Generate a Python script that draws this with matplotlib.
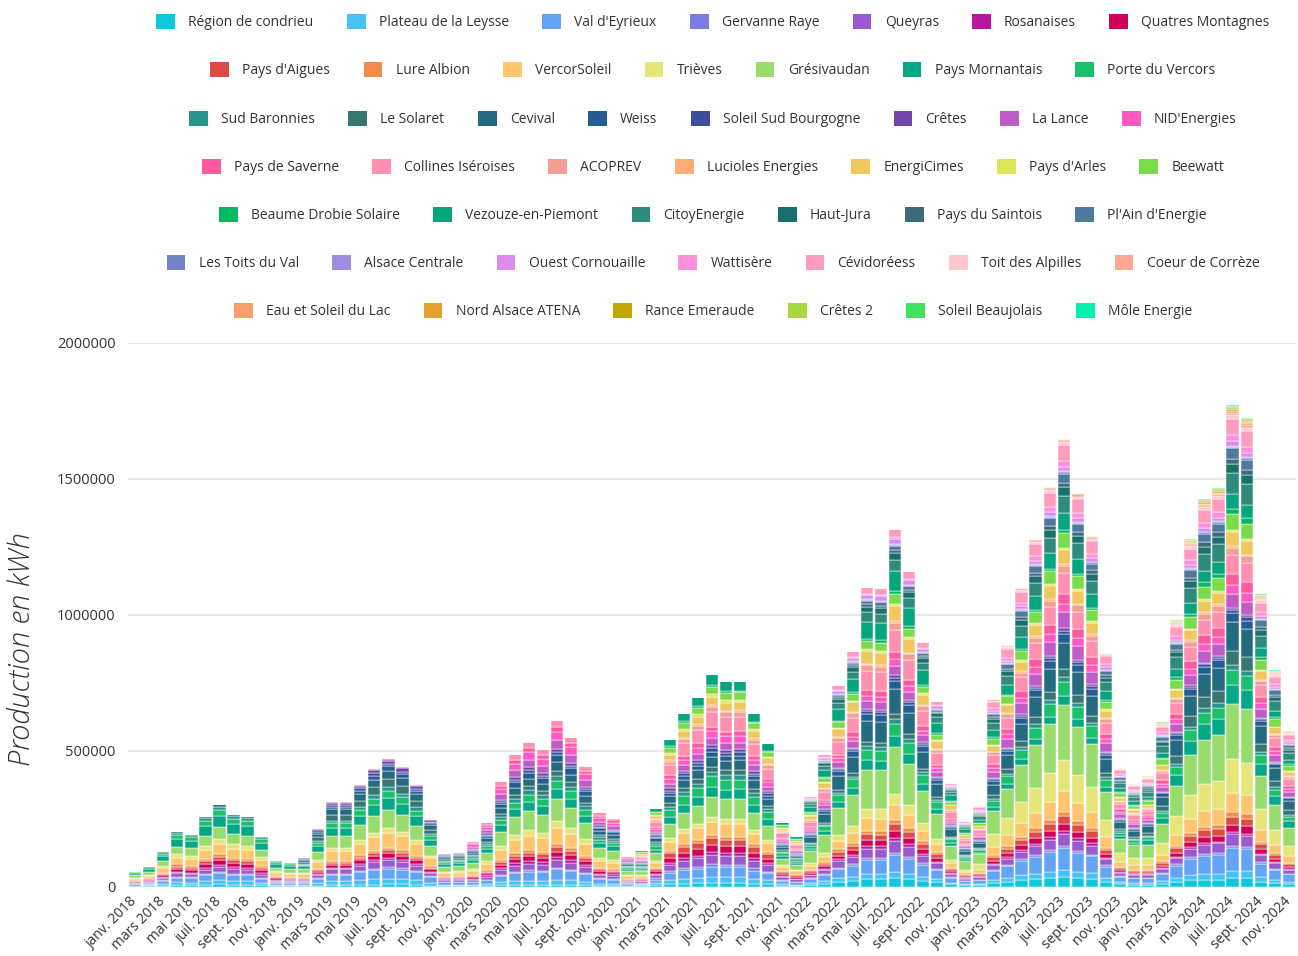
import matplotlib
matplotlib.use("Agg")
import matplotlib.pyplot as plt
from matplotlib.patches import Patch
import numpy as np

# ---------------- data ----------------
month_abbr = ["janv.", "févr.", "mars", "avr.", "mai", "juin",
              "juil.", "août", "sept.", "oct.", "nov.", "déc."]
years = [2018, 2019, 2020, 2021, 2022, 2023, 2024]
months = [f"{m} {y}" for y in years for m in month_abbr][:83]

totals_k = [
    59, 78, 132, 206, 196, 260, 304, 269, 260, 188, 98, 91,          # 2018
    111, 218, 316, 316, 380, 438, 475, 445, 379, 251, 124, 127,      # 2019
    169, 239, 388, 488, 533, 507, 614, 553, 446, 274, 255, 113,      # 2020
    135, 291, 544, 641, 700, 782, 757, 759, 639, 528, 240, 187,      # 2021
    334, 488, 741, 866, 1104, 1098, 1316, 1160, 901, 684, 383, 242,  # 2022
    297, 691, 888, 1101, 1280, 1471, 1648, 1447, 1290, 862, 437, 377,  # 2023
    408, 606, 983, 1281, 1427, 1468, 1772, 1726, 1077, 796, 575,     # 2024
]

series = [
    "Région de condrieu", "Plateau de la Leysse", "Val d'Eyrieux", "Gervanne Raye",
    "Queyras", "Rosanaises", "Quatres Montagnes",
    "Pays d'Aigues", "Lure Albion", "VercorSoleil", "Trièves", "Grésivaudan",
    "Pays Mornantais", "Porte du Vercors",
    "Sud Baronnies", "Le Solaret", "Cevival", "Weiss", "Soleil Sud Bourgogne",
    "Crêtes", "La Lance", "NID'Energies",
    "Pays de Saverne", "Collines Iséroises", "ACOPREV", "Lucioles Energies",
    "EnergiCimes", "Pays d'Arles", "Beewatt",
    "Beaume Drobie Solaire", "Vezouze-en-Piemont", "CitoyEnergie", "Haut-Jura",
    "Pays du Saintois", "Pl'Ain d'Energie",
    "Les Toits du Val", "Alsace Centrale", "Ouest Cornouaille", "Wattisère",
    "Cévidoréess", "Toit des Alpilles", "Coeur de Corrèze",
    "Eau et Soleil du Lac", "Nord Alsace ATENA", "Rance Emeraude", "Crêtes 2",
    "Soleil Beaujolais", "Môle Energie",
]
legend_rows = [7, 7, 8, 7, 6, 7, 6]

colors = [
    "#0cc8da", "#45c3f8", "#64a4f4", "#7b7be0", "#9b59d0", "#b5179e", "#d0005a",
    "#dc4b44", "#f28c4a", "#fec76f", "#e5e57a", "#98dc6e", "#03a886", "#1ac06a",
    "#27958a", "#377673", "#246a80", "#245c94", "#3c4f9a", "#7246a8", "#c05cc8", "#ff5ac4",
    "#ff5aa0", "#ff90b0", "#f49f94", "#ffac78", "#f0c860", "#dce655", "#7adc4a",
    "#05b85f", "#05a57d", "#2f8c7c", "#1a706c", "#3d6b7c", "#4f7aa0",
    "#6e84c4", "#a08ce0", "#dc8cf0", "#ff90dc", "#ff9cc0", "#ffc8cc", "#ffa890",
    "#f5a06a", "#e5a030", "#c0a800", "#a8d840", "#40e060", "#00f0b0",
]

# July bar composition per year (k kWh), read segment by segment, 2018..2024
july_parts = [
    [10, 10, 9, 15, 33, 35, 31],
    [15, 21, 18, 22, 22, 25, 25],
    [25, 37, 37, 37, 61, 75, 77],
    [6, 6, 6, 10, 9, 8, 8],
    [18, 25, 28, 33, 40, 40, 40],
    [9, 9, 12, 12, 12, 10, 8],
    [16, 16, 18, 25, 25, 25, 25],
    [12, 12, 16, 25, 25, 28, 28],
    [12, 10, 12, 12, 15, 15, 15],
    [37, 54, 58, 49, 55, 70, 67],
    [18, 18, 25, 18, 40, 110, 116],
    [43, 67, 80, 74, 170, 190, 190],
    [43, 43, 37, 37, 40, 30, 67],
    [21, 26, 31, 37, 45, 50, 49],
    [12, 15, 18, 18, 15, 15, 18],
    [9, 31, 18, 18, 20, 30, 49],
    [0, 31, 31, 37, 90, 90, 98],
    [0, 15, 25, 18, 30, 30, 31],
    [0, 10, 12, 12, 12, 12, 12],
    [0, 12, 12, 12, 8, 8, 6],
    [0, 6, 31, 25, 35, 55, 49],
    [0, 4, 31, 25, 25, 30, 31],
    [0, 0, 18, 18, 25, 35, 37],
    [0, 0, 25, 55, 80, 70, 67],
    [0, 0, 0, 18, 25, 25, 25],
    [0, 0, 0, 6, 6, 6, 6],
    [0, 0, 0, 31, 55, 50, 49],
    [0, 0, 0, 9, 8, 8, 6],
    [0, 0, 0, 28, 35, 50, 55],
    [0, 0, 0, 6, 10, 10, 18],
    [0, 0, 0, 39, 75, 60, 49],
    [0, 0, 0, 0, 40, 60, 73],
    [0, 0, 0, 0, 25, 30, 31],
    [0, 0, 0, 0, 10, 15, 18],
    [0, 0, 0, 0, 15, 30, 37],
    [0, 0, 0, 0, 3, 6, 6],
    [0, 0, 0, 0, 3, 3, 3],
    [0, 0, 0, 0, 20, 15, 15],
    [0, 0, 0, 0, 5, 20, 22],
    [0, 0, 0, 0, 30, 55, 55],
    [0, 0, 0, 0, 0, 10, 12],
    [0, 0, 0, 0, 0, 10, 9],
    [0, 0, 0, 0, 0, 3, 6],
    [0, 0, 0, 0, 0, 0, 6],
    [0, 0, 0, 0, 0, 0, 3],
    [0, 0, 0, 0, 0, 0, 6],
    [0, 0, 0, 0, 0, 0, 3],
    [0, 0, 0, 0, 0, 0, 3],
]

# --------------- build per-series monthly values ---------------
parts = np.array(july_parts, dtype=float)          # (48, 7)
shares = parts / parts.sum(axis=0, keepdims=True)
tot = np.array(totals_k, dtype=float) * 1000
year_idx = np.arange(len(months)) // 12
values = shares[:, year_idx] * tot[None, :]

# --------------- plot ---------------
W, H = 1298, 956
fig = plt.figure(figsize=(W / 100, H / 100), dpi=100)
ax = fig.add_axes([128 / W, 1 - 887 / H, (1296 - 128) / W, (887 - 343) / H])

x = np.arange(len(months))
bottom = np.zeros(len(months))
for name, col, vals in zip(series, colors, values):
    ax.bar(x, vals, bottom=bottom, width=0.88, color=col,
           edgecolor="white", linewidth=0.35, label=name, zorder=3)
    bottom += vals

ax.set_xlim(-0.5, len(months) - 0.5)
ax.set_ylim(0, 2000000)
ax.set_yticks([0, 500000, 1000000, 1500000, 2000000])
ax.set_yticklabels(["0", "500000", "1000000", "1500000", "2000000"],
                   fontsize=10.5, color="#333333", family="Open Sans")
ax.yaxis.grid(True, color="#e3e3e3", linewidth=1.2, zorder=0)
ax.set_axisbelow(True)
for s in ax.spines.values():
    s.set_visible(False)
ax.tick_params(axis="both", length=0)
ax.tick_params(axis="y", pad=9)

ax.set_xticks(x[::2])
ax.set_xticklabels(months[::2], rotation=45, ha="right", va="center",
                   rotation_mode="anchor",
                   fontsize=10, color="#333333", family="Open Sans")
ax.tick_params(axis="x", pad=9)

fig.text(22 / W, 1 - 649 / H, "Production en kWh", rotation=90, fontsize=21,
         style="italic", fontweight="light", color="#333333",
         family="Open Sans", ha="center", va="center")

# --------------- legend rows ---------------
row_y = [22, 70, 119, 167, 215, 263, 311]
start = 0
for n, yy in zip(legend_rows, row_y):
    handles = [Patch(facecolor=colors[i], edgecolor="none", label=series[i])
               for i in range(start, start + n)]
    leg = fig.legend(handles=handles, loc="center", ncol=n,
                     bbox_to_anchor=(713 / W, 1 - yy / H), frameon=False,
                     prop={"family": "Open Sans", "size": 10},
                     handlelength=1.35, handleheight=1.35, handletextpad=0.95,
                     columnspacing=2.4, borderaxespad=0, borderpad=0)
    for t in leg.get_texts():
        t.set_color("#333333")
    start += n

fig.savefig("out.png", dpi=100)
